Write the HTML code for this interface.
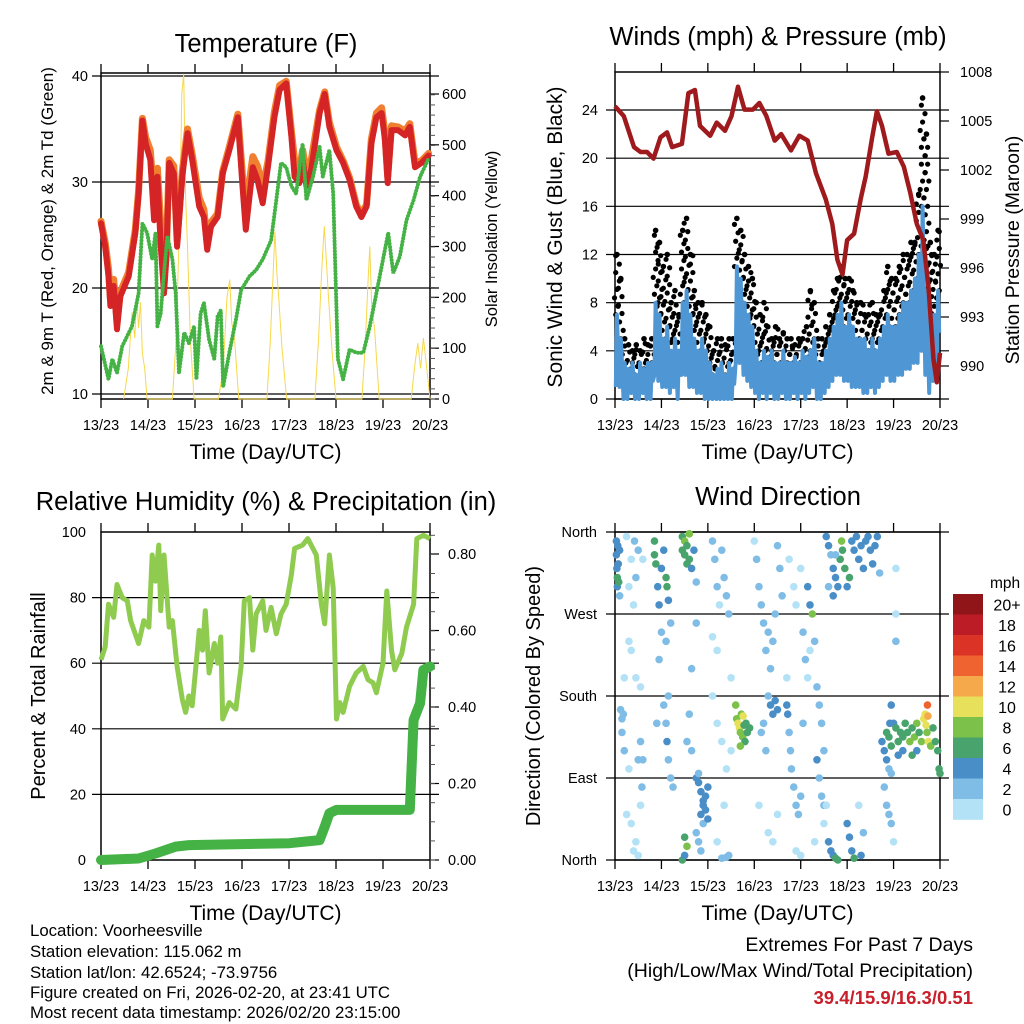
<!DOCTYPE html>
<html><head><meta charset="utf-8"><style>
html,body{margin:0;padding:0;background:#fff;}
svg{display:block;font-family:"Liberation Sans",sans-serif;}
</style></head><body>
<svg id="fig" width="1024" height="1024" viewBox="0 0 1024 1024" xmlns="http://www.w3.org/2000/svg">
<rect width="1024" height="1024" fill="#fff"/>
<g id="g1"></g>
<g id="g2"></g>
<g id="g3"></g>
<g id="g4"></g>
<g id="foot">
<text x="30" y="936" font-size="16.8">Location: Voorheesville</text>
<text x="30" y="957" font-size="16.8">Station elevation: 115.062 m</text>
<text x="30" y="978" font-size="16.8">Station lat/lon: 42.6524; -73.9756</text>
<text x="30" y="998" font-size="16.8">Figure created on Fri, 2026-02-20, at 23:41 UTC</text>
<text x="30" y="1018" font-size="16.8">Most recent data timestamp: 2026/02/20 23:15:00</text>
<text x="973" y="951" font-size="19.5" text-anchor="end">Extremes For Past 7 Days</text>
<text x="973" y="977" font-size="19.5" text-anchor="end">(High/Low/Max Wind/Total Precipitation)</text>
<text x="973" y="1004" font-size="18.5" font-weight="bold" fill="#c8202a" text-anchor="end">39.4/15.9/16.3/0.51</text>
</g>
</svg>
<script>
// ---- time labels
const dayLabels = ["13/23","14/23","15/23","16/23","17/23","18/23","19/23","20/23"];
// ---- temperature panel
const redT = [0,.09,.16,.2,.27,.34,.41,.59,.73,.8,.88,.95,1.05,1.13,1.2,1.27,1.34,1.39,1.45,1.55,1.62,1.73,1.84,1.94,2.09,2.19,2.26,2.34,2.48,2.59,2.73,2.91,3.01,3.08,3.23,3.33,3.44,3.55,3.69,3.8,3.94,4.05,4.12,4.22,4.29,4.37,4.47,4.65,4.76,4.86,5.01,5.15,5.29,5.43,5.54,5.65,5.75,5.86,5.97,6.04,6.1,6.18,6.32,6.47,6.57,6.68,6.82,6.97];
const redV = [26.1,23.9,21.1,18.3,20.2,16.1,19.2,21.1,25.2,28.9,35.8,33.6,32.1,26.4,30.5,24.0,19.5,22.7,31.8,30.8,23.9,30.5,34.6,32.1,27.7,26.7,23.6,25.8,26.7,30.8,33.0,36.1,29.6,25.5,31.4,30.2,28.0,31.4,36.1,38.7,39.3,34.3,30.5,29.9,32.1,29.6,31.1,36.5,38.3,35.2,33.0,31.8,30.2,27.7,26.7,27.7,33.6,36.1,36.5,34.0,29.9,34.9,34.9,34.4,35.2,31.4,31.8,32.5];
const orangeV = [26.3,24.3,21.8,19.0,20.8,16.8,19.6,21.5,25.5,29.2,36.0,34.2,33.0,28.0,31.3,26.0,21.0,23.2,32.1,31.5,24.5,31.0,35.0,32.6,28.5,27.4,24.2,26.2,27.0,31.0,33.3,36.4,30.6,27.5,32.4,31.5,29.5,31.9,36.6,39.1,39.5,34.8,32.0,31.0,33.0,31.0,32.0,36.8,38.5,35.6,33.3,32.0,30.4,27.9,26.9,27.9,34.0,36.5,37.0,34.6,30.5,35.3,35.2,34.8,35.5,31.8,32.0,32.7];
const dewT = [0,.16,.24,.34,.45,.66,.8,.88,.98,1.09,1.16,1.2,1.27,1.34,1.41,1.52,1.59,1.66,1.77,1.87,1.98,2.03,2.12,2.19,2.3,2.41,2.48,2.55,2.6,2.73,2.87,2.98,3.16,3.3,3.44,3.62,3.73,3.83,3.94,4.05,4.15,4.29,4.37,4.51,4.65,4.72,4.86,4.94,5.01,5.04,5.15,5.29,5.43,5.58,5.72,5.86,5.97,6.11,6.22,6.36,6.5,6.65,6.79,6.97];
const dewV = [14.5,11.4,13.3,12.0,14.5,16.4,19.5,26.1,25.2,22.7,25.2,16.4,17.6,21.4,24.9,22.7,19.5,12.0,15.8,14.8,16.4,11.4,17.6,18.6,15.1,13.3,17.3,17.9,10.7,13.9,17.0,19.8,21.1,21.7,22.7,24.5,28.3,31.8,31.4,29.6,28.9,33.6,28.3,30.5,33.3,30.5,33.0,28.9,18.0,13.3,11.4,14.2,13.9,13.9,16.4,19.5,22.0,25.2,21.4,23.0,26.4,28.3,30.5,32.2];
const solarT = [0.48,0.58,0.66,0.72,0.76,0.8,0.84,0.88,0.93,0.98, 1.52,1.6,1.68,1.72,1.76,1.8,1.84,1.9,1.98, 2.5,2.6,2.68,2.74,2.78,2.84,2.93, 3.53,3.6,3.66,3.7,3.74,3.78,3.85,3.95, 4.55,4.63,4.7,4.75,4.79,4.84,4.92,5.0, 5.55,5.62,5.68,5.72,5.76,5.82,5.92, 6.6,6.68,6.74,6.8,6.86,6.92,7.0];
const solarV = [0,60,170,120,205,140,190,90,60,0, 0,120,380,600,640,400,300,120,0, 0,60,200,235,150,120,0, 0,110,240,330,250,200,100,0, 0,120,260,340,280,200,90,0, 0,100,230,300,180,140,0, 0,70,110,60,120,70,0];
// ---- winds panel
const presT = [0,.19,.41,.55,.69,.83,.98,1.12,1.23,1.44,1.58,1.72,1.83,2.05,2.19,2.37,2.51,2.65,2.79,2.97,3.11,3.26,3.44,3.58,3.79,3.97,4.15,4.33,4.54,4.68,4.79,4.9,5.0,5.15,5.29,5.4,5.54,5.64,5.75,5.89,6.07,6.22,6.36,6.5,6.64,6.75,6.86,6.93,7.0];
const presV = [1005.9,1005.3,1003.4,1003.1,1003.1,1002.7,1004.0,1004.3,1003.4,1003.6,1006.7,1006.9,1004.7,1004.1,1004.9,1004.4,1005.3,1007.1,1005.7,1005.7,1006.1,1005.3,1003.8,1004.2,1003.2,1004.1,1003.8,1001.8,1000.2,998.7,996.5,995.6,997.7,998.1,1000.2,1001.6,1004.0,1005.6,1004.7,1003.0,1003.1,1002.2,1000.6,998.7,997.7,994.9,990.4,989.0,990.8];
const windHi = [7,5,3,2.5,3,2,3,2.5,3,3,8,7,5,6,4,5,4,8,9,7,5,4,5,4,3,2,2.5,3,2,3,2.5,11,10,8,7,6,4,3,4,3.5,4,3,3,4,3,3,3.5,3,4,3.5,4,5,3,3,4,5,6,7,8,6,7,6,5,5,5,4,5,4,5,6,7,6,6,7,8,8,9,10,12,16,9,5,7,9];
const windLo = [1,1,0,0,0.5,0,0,0.5,0,0,2,1.5,1,1,0.5,1,0,2,2,1,1,0.5,0.5,0,0,0,0,0,0,0,0,3,3,2,1.5,1,0.5,0,0.5,0,0.5,0,0,0.5,0,0,0.5,0,0.5,0,0.5,1,0,0,0.5,1,1.5,2,2,1.5,1.5,1,1,1,0.5,0.5,1,0.5,1,1.5,2,1.5,1.5,2,2,2.5,2.5,3,3,4,2,0.5,1.5,2];
const gustHi = [12,10,5,4.5,4,4.5,4,5,4.5,5,14,13,11,12,8,9,7,14,15,12,9,8,8,7,6,4,5,5,4.5,5,5,15,14,12,11,10,8,7,8,6,5,6,5,5.5,5,5,4.5,5,5,6,9,8,5,5,6,7,9,10,11,10,10,9,8,8,7,7,8,7,7,9,11,10,10,11,12,12,13,13,17,25,22,13,12,14];
// ---- humidity / precipitation
const rhT = [0,.09,.16,.27,.34,.45,.56,.63,.8,.91,1.02,1.09,1.16,1.23,1.27,1.34,1.45,1.52,1.62,1.73,1.8,1.87,1.94,2.02,2.09,2.16,2.22,2.3,2.41,2.48,2.55,2.59,2.73,2.87,2.98,3.05,3.16,3.23,3.3,3.44,3.51,3.62,3.73,3.83,3.94,4.05,4.12,4.29,4.4,4.58,4.69,4.76,4.86,4.94,5.01,5.08,5.15,5.29,5.43,5.58,5.68,5.79,5.86,6.0,6.08,6.18,6.25,6.4,6.5,6.65,6.72,6.86,7.0];
const rhV = [61,65,78,74,84,80,79,73,66,73,71,93,85,96,76,93,71,73,59,49,45,50,47,59,70,64,76,57,66,60,68,43,48,46,59,79,80,64,75,79,70,77,69,75,78,87,95,96,98,93,78,72,93,83,43,48,45,53,57,59,55,54,51,60,82,64,58,63,71,78,98,99,98];
const rainT = [0,.8,1.16,1.59,1.87,4.01,4.65,4.76,4.86,5.01,6.57,6.65,6.79,6.86,7.0];
const rainV = [0,0.004,0.017,0.035,0.039,0.044,0.052,0.087,0.122,0.131,0.131,0.366,0.41,0.497,0.506];
// ---- wind direction scatter
const dirT = [0.03,0.03,0.04,0.05,0.05,0.06,0.07,0.08,0.1,0.1,0.12,0.15,0.15,0.18,0.2,0.25,0.3,0.3,0.35,0.35,0.4,0.42,0.45,0.5,0.5,0.55,0.55,0.58,0.6,0.45,0.4,0.5,0.35,0.3,0.25,0.6,0.55,0.45,0.2,
0.85,0.85,0.88,0.92,0.95,1.0,1.05,1.1,1.12,1.15,1.2,1.0,0.95,1.1,1.15,1.05,1.1,1.12,1.15,1.2,0.9,1.25,
1.45,1.45,1.5,1.5,1.55,1.55,1.6,1.6,1.65,1.7,1.75,1.75,1.65,1.6,1.55,1.65,1.45,1.5,1.55,1.5,
1.75,1.8,1.85,1.9,1.95,1.8,1.85,1.9,1.95,2.0,2.0,1.75,1.8,1.85,1.9,
2.1,2.15,2.2,2.25,2.3,2.35,2.4,2.45,2.1,2.2,2.1,2.2,2.3,2.4,2.5,2.3,2.4,2.45,2.2,2.35,2.5,
2.6,2.62,2.65,2.68,2.7,2.72,2.75,2.78,2.8,2.82,2.85,2.9,2.7,2.76,
3.0,3.05,3.1,3.15,3.2,3.25,3.3,3.35,3.4,3.45,3.5,3.55,3.6,3.3,3.35,3.4,3.45,3.5,3.2,3.15,3.25,3.1,3.3,3.4,3.5,
3.7,3.72,3.75,3.78,3.8,3.85,3.9,3.95,4.0,3.75,3.85,3.9,4.0,4.05,4.1,3.7,4.05,3.9,4.0,
4.15,4.2,4.25,4.3,4.35,4.4,4.45,4.5,4.35,4.4,4.45,4.5,4.15,4.2,4.5,4.3,
4.55,4.6,4.65,4.7,4.75,4.8,4.85,4.88,4.9,4.95,5.0,5.05,5.1,5.15,5.2,5.25,5.3,5.35,5.4,5.45,5.5,5.55,5.6,5.65,5.7,4.6,4.7,4.75,
4.6,4.65,4.7,4.75,4.8,5.0,5.05,5.1,5.15,5.3,5.35,4.55,5.25,
5.75,5.8,5.85,5.9,5.92,5.95,5.8,5.85,5.9,5.95,6.0,6.05,6.05,6.05,5.95,
5.85,5.9,5.95,6.0,6.05,6.1,6.15,6.2,6.25,6.3,6.35,6.4,6.45,6.5,6.55,6.6,6.65,6.68,6.7,6.72,6.73,6.74,6.75,6.8,6.85,6.9,6.95,6.98,7.0,6.1,6.2,6.4,6.5];
const dirD = [350,335,320,310,300,345,325,305,340,290,165,155,140,160,120,355,300,240,230,330,280,350,310,340,110,130,60,80,110,20,10,5,40,100,50,330,190,200,200,
350,335,325,300,280,320,340,310,300,285,260,250,220,240,180,170,150,130,110,90,150,80,
355,340,335,350,345,325,330,358,320,340,305,260,210,160,130,120,0,5,15,25,
90,85,75,65,55,95,50,40,70,80,45,30,20,10,60,
350,330,300,280,340,310,290,270,245,230,180,150,130,100,120,2,3,5,20,60,200,
170,155,150,145,140,160,135,148,130,150,140,145,125,158,
350,330,300,280,260,230,250,210,240,270,345,320,290,180,170,160,175,165,150,140,120,60,30,20,50,
170,160,140,120,100,80,60,50,70,330,300,280,320,250,220,200,150,10,5,
300,280,270,240,190,170,150,120,110,90,70,60,200,230,40,20,
355,345,335,320,310,300,330,350,340,320,300,310,350,340,355,330,345,320,350,355,340,325,345,355,315,300,290,335,
20,10,5,2,0,40,25,10,2,5,30,60,60,
130,120,110,100,150,95,80,60,50,40,20,270,240,320,170,
140,135,125,150,145,130,140,135,150,140,130,145,135,150,140,130,155,160,148,140,170,158,130,125,145,130,120,100,95,115,120,115,120];
const dirS = [4,4,4,6,4,4,4,6,4,2,2,3,2,2,2,1,1,1,1,1,1,2,2,2,2,2,1,2,2,1,1,1,1,1,1,1,1,1,1,
6,6,7,4,4,4,4,6,6,4,2,2,3,2,2,3,3,4,2,2,3,2,
7,6,6,8,6,6,6,8,4,4,2,2,2,2,2,2,6,4,8,6,
4,4,4,4,4,3,4,3,4,4,4,2,3,2,4,
2,2,2,1,2,2,2,2,1,1,1,1,1,1,1,2,2,2,1,1,1,
8,8,10,10,8,8,8,6,6,6,6,6,8,10,
1,2,2,2,2,2,2,2,3,2,3,3,2,3,4,4,4,4,3,2,2,1,1,1,1,
4,4,3,3,3,3,2,3,2,1,1,1,1,2,2,1,2,1,1,
4,4,8,2,2,3,3,3,4,3,2,2,1,1,1,1,
4,4,3,4,4,4,6,8,6,6,4,6,4,4,4,4,4,4,4,4,4,4,4,4,3,3,4,3,
4,4,4,6,6,4,4,4,6,4,3,1,1,
4,4,4,3,4,3,3,3,3,2,1,1,3,1,4,
6,6,6,4,6,6,7,6,6,7,8,7,8,8,7,8,10,10,10,9,14,12,10,8,6,7,6,6,6,4,4,6,5];
const speedColors = ["#b3e2f7","#7fbce6","#4a8ec8","#48a46c","#7bc14a","#e6e05a","#f5a94a","#ef6330","#dc3327","#bb1c25","#8f1518"];
const speedLabels = ["0","2","4","6","8","10","12","14","16","18","20+"];
const dirLabels = ["North","East","South","West","North"];

const NS = "http://www.w3.org/2000/svg";
function mk(parent, tag, attrs, text){
  const e = document.createElementNS(NS, tag);
  for (const k in attrs) e.setAttribute(k, attrs[k]);
  if (text !== undefined) e.textContent = text;
  parent.appendChild(e); return e;
}
function lin(d0,d1,r0,r1){ return v => r0 + (v-d0)*(r1-r0)/(d1-d0); }
const F = 14.5;

function frame(g, x0, x1, y0, y1){
  const r = mk(g,'rect',{x:x0,y:y0,width:x1-x0,height:y1-y0,fill:'none',stroke:'#000','stroke-width':1.5});
   
  const xs = lin(0,7,x0,x1);
  for (let d=0; d<=7; d++){
    const x = xs(d);
    const t1 = mk(g,'line',{x1:x,x2:x,y1:y1,y2:y1+9,stroke:'#000','stroke-width':1.3});
     
    const t2 = mk(g,'line',{x1:x,x2:x,y1:y0,y2:y0-9,stroke:'#000','stroke-width':1.3});
     
    const l = mk(g,'text',{x:x,y:y1+31,'font-size':F,'text-anchor':'middle'}, dayLabels[d]);
     
  }
  const xt = mk(g,'text',{x:(x0+x1)/2,y:y1+60,'font-size':21,'text-anchor':'middle'},'Time (Day/UTC)');
   
  return xs;
}
function grid(g,x0,x1,y){
  const l = mk(g,'line',{x1:x0-9,x2:x1+9,y1:y,y2:y,stroke:'#000','stroke-width':1.2});
   
}
function ylab(g,x,y,txt,anchor,name){
  const l = mk(g,'text',{x:x,y:y+5,'font-size':F,'text-anchor':anchor},txt);
   
}
function vtitle(g,x,y,txt,size,name){
  const l = mk(g,'text',{x:x,y:y,'font-size':size,'text-anchor':'middle',transform:`rotate(-90 ${x} ${y})`},txt);
   
}
function title(g,x,y,txt,name){
  const l = mk(g,'text',{x:x,y:y,'font-size':25.5,'text-anchor':'middle'},txt);
   
}
function path(T,V,xs,ys){
  let s=''; const n=Math.min(T.length,V.length);
  for(let i=0;i<n;i++) s += (i?'L':'M') + xs(T[i]).toFixed(1)+','+ys(V[i]).toFixed(1);
  return s;
}
function minorTicks(g,x,y0,y1,step,dir){
  for(let y=y0; y>=y1-0.01; y-=step){
    const t = mk(g,'line',{x1:x,x2:x+dir*5,y1:y,y2:y,stroke:'#555','stroke-width':1});
     
  }
}

// ===== Panel 1
(function(){
  const g = document.getElementById('g1');
  const x0=101,x1=430,y0=73,y1=399;
  title(g,266,52,'Temperature (F)','temperature-title');
  const xs = frame(g,x0,x1,y0,y1);
  const ys = lin(10,40,394,76);
  const yr = lin(0,600,399,94);
  [10,20,30,40].forEach(v=>{ grid(g,x0,x1,ys(v)); ylab(g,88,ys(v),String(v),'end','y-tick-label'); });
  [0,100,200,300,400,500,600].forEach(v=>{
    const t=mk(g,'line',{x1:x1,x2:x1+9,y1:yr(v),y2:yr(v),stroke:'#000','stroke-width':1.2});
     
    ylab(g,442,yr(v),String(v),'start','y2-tick-label');
  });
  minorTicks(g,x1,yr(0),yr(600),10.14,1);
  vtitle(g,53,231,'2m & 9m T (Red, Orange) & 2m Td (Green)',17,'y-axis-title');
  vtitle(g,497,239,'Solar Insolation (Yellow)',16.5,'y2-axis-title');
  const s = mk(g,'path',{d:path(solarT,solarV,xs,yr),fill:'none',stroke:'#f7d84a','stroke-width':1});
   
  const o = mk(g,'path',{d:path(redT,orangeV,xs,ys),fill:'none',stroke:'#f07f30','stroke-width':7,'stroke-linejoin':'round','stroke-linecap':'round'});
   
  const r = mk(g,'path',{d:path(redT,redV,xs,ys),fill:'none',stroke:'#d42426','stroke-width':6,'stroke-linejoin':'round','stroke-linecap':'round'});
   
  const d = mk(g,'path',{d:path(dewT,dewV,xs,ys),fill:'none',stroke:'#45b245','stroke-width':4,'stroke-dasharray':'0.1 3.2','stroke-linecap':'round'});
   
})();

// ===== Panel 2
(function(){
  const g = document.getElementById('g2');
  const x0=615,x1=940,y0=72,y1=399;
  title(g,778,45,'Winds (mph) & Pressure (mb)','winds-title');
  const xs = frame(g,x0,x1,y0,y1);
  const ys = lin(0,24,399,110);
  const yp = lin(990,1008,366,72);
  [0,4,8,12,16,20,24].forEach(v=>{ grid(g,x0,x1,ys(v)); ylab(g,598,ys(v),String(v),'end','y-tick-label'); });
  [990,993,996,999,1002,1005,1008].forEach(v=>{
    const t=mk(g,'line',{x1:x1,x2:x1+9,y1:yp(v),y2:yp(v),stroke:'#000','stroke-width':1.2});
     
    ylab(g,960,yp(v),String(v),'start','y2-tick-label');
  });
  vtitle(g,562,237,'Sonic Wind & Gust (Blue, Black)',21,'y-axis-title');
  vtitle(g,1019,250,'Station Pressure (Maroon)',19.5,'y2-axis-title');
  const n = windHi.length, bw = (x1-x0)/n;
  for(let i=0;i<n;i++){
    const t = (i+0.5)*7/n, x = xs(t);
    for(let v=windHi[i]; v<=gustHi[i]; v+=0.7){
      const c = mk(g,'circle',{cx:x+((i*7+Math.round(v*3))%5-2)*1.2,cy:ys(v),r:2.6,fill:'#000'});
       
    }
    const c = mk(g,'circle',{cx:x,cy:ys(gustHi[i]),r:2.8,fill:'#000'});
     
  }
  // sustained wind: jagged thick line alternating between high and low of each bin
  let s='';
  for(let i=0;i<n;i++){
    const t = (i+0.5)*7/n, x = xs(t);
    const a = x-bw*0.3, b = x, c = x+bw*0.3;
    const mid = (windHi[i]+windLo[i])/2;
    s += (i?'L':'M')+a.toFixed(1)+','+ys(windLo[i]).toFixed(1)+'L'+b.toFixed(1)+','+ys(windHi[i]).toFixed(1)+'L'+c.toFixed(1)+','+ys(mid).toFixed(1);
  }
  const bl = mk(g,'path',{d:s,fill:'none',stroke:'#4f97d4','stroke-width':4,'stroke-linejoin':'round'});
   
  const p = mk(g,'path',{d:path(presT,presV,xs,yp),fill:'none',stroke:'#9e1a1d','stroke-width':4.5,'stroke-linejoin':'round'});
   
})();

// ===== Panel 3
(function(){
  const g = document.getElementById('g3');
  const x0=101,x1=430,y0=532,y1=860;
  title(g,266,510,'Relative Humidity (%) & Precipitation (in)','humidity-title');
  const xs = frame(g,x0,x1,y0,y1);
  const ys = lin(0,100,860,532);
  const yr = lin(0,0.8,860,554);
  [0,20,40,60,80,100].forEach(v=>{ if(v>0&&v<100) grid(g,x0,x1,ys(v)); ylab(g,86,ys(v),String(v),'end','y-tick-label'); });
  [0,0.2,0.4,0.6,0.8].forEach(v=>{
    const t=mk(g,'line',{x1:x1,x2:x1+9,y1:yr(v),y2:yr(v),stroke:'#000','stroke-width':1.2});
     
    ylab(g,448,yr(v),v.toFixed(2),'start','y2-tick-label');
  });
  minorTicks(g,x1,yr(0),yr(0.85),19.1,1);
  vtitle(g,45,696,'Percent & Total Rainfall',20,'y-axis-title');
  const h = mk(g,'path',{d:path(rhT,rhV,xs,ys),fill:'none',stroke:'#8fcb4f','stroke-width':5,'stroke-linejoin':'round'});
   
  const r = mk(g,'path',{d:path(rainT,rainV,xs,yr),fill:'none',stroke:'#45b245','stroke-width':10,'stroke-linejoin':'round','stroke-linecap':'round'});
   
})();

// ===== Panel 4
(function(){
  const g = document.getElementById('g4');
  const x0=615,x1=940,y0=532,y1=860;
  title(g,778,505,'Wind Direction','direction-title');
  const xs = frame(g,x0,x1,y0,y1);
  const ys = lin(0,360,860,532);
  dirLabels.forEach((s,i)=>{ grid(g,x0,x1,ys(i*90)); ylab(g,597,ys(i*90),s,'end','y-tick-label'); });
  vtitle(g,540,696,'Direction (Colored By Speed)',20,'y-axis-title');
  const n = Math.min(dirT.length,dirD.length,dirS.length);
  for(let i=0;i<n;i++){
    const k = Math.min(10,Math.floor(dirS[i]/2));
    const c = mk(g,'circle',{cx:xs(dirT[i]),cy:ys(dirD[i]),r:3.8,fill:speedColors[k]});
     
  }
  const lg = mk(g,'g',{});
   
  const lt = mk(lg,'text',{x:990,y:588,'font-size':15.5},'mph');
   
  const bh = 20.5, top = 594;
  for(let i=0;i<11;i++){
    const k = 10-i, y = top+i*bh;
    const r = mk(lg,'rect',{x:953,y:y,width:30,height:bh+0.3,fill:speedColors[k]});
     
    const l = mk(lg,'text',{x:1007,y:y+bh/2+6,'font-size':16,'text-anchor':'middle'},speedLabels[k]);
     
  }
})();
</script>
</body></html>
